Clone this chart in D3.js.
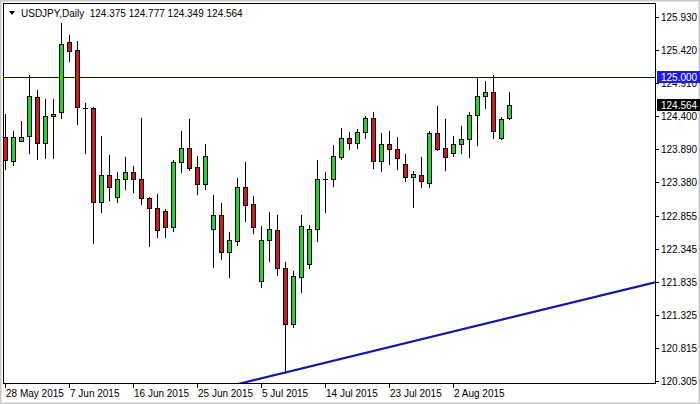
<!DOCTYPE html>
<html><head><meta charset="utf-8">
<script src="https://cdn.jsdelivr.net/npm/d3@7"></script>
<style>
html,body{margin:0;padding:0;background:#fff;}
svg{display:block;}
text{font-family:"Liberation Sans",Arial,sans-serif;}
</style></head>
<body>
<svg id="chart" width="700" height="404"></svg>
<script>
// ---- Data (USDJPY Daily, bar index 0 = 28 May 2015, 6 bars per week incl. Sunday) ----
const symbolTitle = "USDJPY,Daily";
const lastOHLC = ["124.375", "124.777", "124.349", "124.564"];

const open  = [124.080,123.705,124.014,124.085,124.698,123.987,124.405,124.457,125.539,125.420,
               124.528,124.519,123.076,123.484,123.153,123.422,123.530,123.422,123.128,122.974,
               122.927,122.689,123.685,123.901,123.607,123.354,122.649,122.866,122.291,122.476,
               123.298,123.036,121.846,122.479,122.638,122.047,121.181,121.917,122.108,122.649,
               123.427,123.422,123.771,124.055,123.978,124.158,124.365,123.709,123.967,123.885,
               123.658,123.453,123.484,123.365,124.142,123.901,123.833,123.963,124.040,124.411,
               124.709,124.771,124.055,124.375];
const high  = [124.431,124.168,124.323,125.034,124.802,124.663,124.663,125.833,125.652,125.559,
               124.596,124.544,124.091,123.797,123.539,123.771,123.627,124.365,123.144,123.190,
               122.963,123.716,124.168,124.354,123.782,123.967,123.175,123.051,122.600,123.442,
               123.689,123.159,122.700,122.917,122.866,122.149,122.010,122.870,122.716,123.720,
               123.539,123.952,124.210,124.148,124.199,124.400,124.457,124.133,124.168,124.071,
               123.808,123.550,123.766,124.168,124.559,124.349,124.091,124.246,124.457,124.983,
               124.936,125.034,124.389,124.777];
const low   = [123.581,123.643,124.010,123.824,123.731,123.756,123.756,124.374,125.255,124.272,
               123.833,122.442,122.921,123.102,123.076,123.277,123.230,123.036,122.396,122.535,
               122.535,122.628,123.530,123.561,123.199,123.267,122.071,122.186,121.917,122.407,
               122.782,122.587,121.753,122.164,121.943,120.436,121.135,121.685,122.056,122.473,
               122.917,123.318,123.731,123.895,123.910,124.055,123.592,123.550,123.654,123.576,
               123.400,122.989,123.298,123.303,123.875,123.566,123.787,123.833,123.771,123.947,
               124.519,124.065,124.040,124.349];
const close = [123.720,124.080,124.080,124.714,123.987,124.405,124.436,125.508,125.409,124.535,
               124.530,123.076,123.484,123.308,123.422,123.530,123.422,123.128,122.974,122.638,
               122.689,123.689,123.901,123.601,123.354,123.777,122.866,122.291,122.479,123.298,
               123.020,122.680,122.484,122.649,122.047,121.181,121.928,122.705,122.649,123.422,
               123.420,123.782,124.055,123.978,124.158,124.365,123.709,123.967,123.885,123.746,
               123.453,123.499,123.396,124.142,123.890,123.771,123.963,124.040,124.411,124.709,
               124.771,124.164,124.349,124.564];

const xTickIndex  = [0, 8, 16, 24, 32, 40, 48, 56];
const xTickLabels = ["28 May 2015","7 Jun 2015","16 Jun 2015","25 Jun 2015","5 Jul 2015","14 Jul 2015","23 Jul 2015","2 Aug 2015"];
const yTickLabels = ["125.930","125.420","124.910","124.400","123.890","123.380","122.855","122.345","121.835","121.325","120.815","120.305"];

const levelPrice = 125.000;            // horizontal line
const trendIndex = [29.16, 81.25];     // trend line anchors (bar index)
const trendPrice = [120.259, 121.830]; // trend line anchors (price)

// ---- Layout ----
const W = 700, H = 404;
const plot = {left: 4, right: 655, top: 4, bottom: 383};

const svg = d3.select("#chart");
const x = d3.scaleLinear().domain([-0.125, 81.25]).range([plot.left, plot.right]);
const y = d3.scaleLinear().domain([120.305, 125.930]).range([381, 17]);

// outer window frame
svg.append("rect").attr("x",0.5).attr("y",0.5).attr("width",W-1).attr("height",H-1)
   .attr("fill","#fff").attr("stroke","#c8c8c8");
svg.append("rect").attr("x",1.5).attr("y",1.5).attr("width",W-3).attr("height",H-3)
   .attr("fill","none").attr("stroke","#e4e4e4");

svg.append("defs").append("clipPath").attr("id","clip")
   .append("rect").attr("x",plot.left).attr("y",plot.top)
   .attr("width",plot.right-plot.left).attr("height",plot.bottom-plot.top);

const g = svg.append("g").attr("clip-path","url(#clip)");

// level line
g.append("line").attr("x1",plot.left).attr("x2",plot.right)
  .attr("y1",Math.round(y(levelPrice))+0.5).attr("y2",Math.round(y(levelPrice))+0.5)
  .attr("stroke","#000080").attr("stroke-width",1);

// trend line (extended across the plot)
const slope = (trendPrice[1]-trendPrice[0])/(trendIndex[1]-trendIndex[0]);
const i0 = x.invert(plot.left), i1 = x.invert(plot.right);
g.append("line")
  .attr("x1",x(i0)).attr("y1",y(trendPrice[0]+slope*(i0-trendIndex[0])))
  .attr("x2",x(i1)).attr("y2",y(trendPrice[0]+slope*(i1-trendIndex[0])))
  .attr("stroke","#1515b0").attr("stroke-width",2.2);

// candles
const bars = d3.range(open.length).map(i => ({i, o:open[i], h:high[i], l:low[i], c:close[i]}));
const cg = g.selectAll("g.candle").data(bars).enter().append("g");
cg.append("line")
  .attr("x1",d=>Math.round(x(d.i))+0.5).attr("x2",d=>Math.round(x(d.i))+0.5)
  .attr("y1",d=>Math.round(y(d.h))).attr("y2",d=>Math.round(y(d.l))+1)
  .attr("stroke","#000").attr("stroke-width",1);
cg.each(function(d){
  const sel = d3.select(this);
  const X = Math.round(x(d.i));
  const yt = Math.round(y(Math.max(d.o,d.c))), yb = Math.round(y(Math.min(d.o,d.c)));
  if (yb - yt < 1) {
    sel.append("line").attr("x1",X-2).attr("x2",X+3).attr("y1",yt+0.5).attr("y2",yt+0.5)
       .attr("stroke","#000").attr("stroke-width",1);
  } else {
    sel.append("rect").attr("x",X-1.5).attr("width",4).attr("y",yt+0.5).attr("height",yb-yt)
       .attr("fill", d.c >= d.o ? "#33cc33" : "#c82020")
       .attr("stroke","#000").attr("stroke-width",1);
  }
});

// plot frame
svg.append("rect").attr("x",plot.left-0.5).attr("y",plot.top-0.5)
   .attr("width",plot.right-plot.left+1).attr("height",plot.bottom-plot.top+1)
   .attr("fill","none").attr("stroke","#000");

// y axis (right)
const ya = svg.append("g");
yTickLabels.forEach(lbl => {
  const v = +lbl, yy = Math.round(y(v));
  ya.append("line").attr("x1",plot.right+1).attr("x2",plot.right+4)
    .attr("y1",yy+0.5).attr("y2",yy+0.5).attr("stroke","#000");
  ya.append("text").attr("x",661).attr("y",yy+4).attr("font-size","10px")
    .attr("fill","#000").text(lbl);
});

// price markers
function marker(v, bg){
  const yy = Math.round(y(v));
  ya.append("rect").attr("x",657).attr("y",yy-6).attr("width",43).attr("height",12).attr("fill",bg);
  ya.append("text").attr("x",661).attr("y",yy+4).attr("font-size","10px")
    .attr("fill","#fff").text(v.toFixed(3));
}
marker(levelPrice, "#1a1af0");
marker(close[close.length-1], "#000");

// x axis (bottom)
const xa = svg.append("g");
xTickIndex.forEach((idx,k) => {
  const X = Math.round(x(idx));
  xa.append("line").attr("x1",X+0.5).attr("x2",X+0.5).attr("y1",plot.bottom+1).attr("y2",plot.bottom+5)
    .attr("stroke","#000");
  xa.append("text").attr("x",X+1).attr("y",397).attr("font-size","10px").attr("fill","#000")
    .text(xTickLabels[k]);
});

// header
svg.append("path").attr("d","M9,11 L15,11 L12,15 Z").attr("fill","#000");
svg.append("text").attr("x",21).attr("y",17).attr("font-size","10px").attr("fill","#000")
   .attr("xml:space","preserve")
   .text(symbolTitle + "  " + lastOHLC.join(" "));
</script>
</body></html>
